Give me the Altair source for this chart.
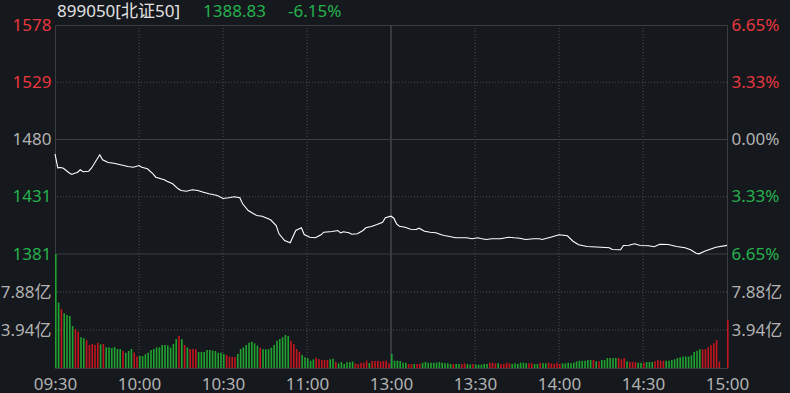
import altair as alt
import pandas as pd

# ---------------- data ----------------
CODE_NAME = "899050[北证50]"
LAST_PRICE = "1388.83"
CHANGE = "-6.15%"
PREV_CLOSE = 1479.84
PCT_LIMIT = 6.65
VOL_MAX = 11.82

time_ticks = [0, 30, 60, 90, 120, 150, 180, 210, 240]
time_labels = ["09:30", "10:00", "10:30", "11:00", "13:00", "13:30", "14:00", "14:30", "15:00"]

pct_ticks = [-6.65, -3.33, 0, 3.33, 6.65]
vol_ticks = [3.94, 7.88]

price_minute = [0, 1, 2, 3, 5, 6, 7, 8, 9, 10, 12, 13, 14, 16, 17, 19, 21, 23, 26, 28,
                30, 31, 33, 35, 36, 39, 40, 42, 44, 45, 47, 49, 51, 53, 55, 58, 60, 62, 64, 66,
                67, 69, 72, 74, 77, 79, 80, 82, 84, 85, 86, 88, 89, 91, 93, 95, 96, 99, 101, 102,
                103, 105, 106, 108, 110, 111, 113, 115, 117, 118, 120, 121, 122, 123, 125, 127, 129, 130, 132, 134,
                136, 138, 139, 141, 143, 147, 149, 151, 152, 154, 156, 159, 162, 164, 166, 168, 171, 173, 174, 177,
                180, 183, 185, 187, 190, 195, 198, 199, 202, 203, 205, 207, 209, 212, 214, 216, 219, 222, 225, 227,
                229, 230, 232, 234, 236, 240]
price_value = [1467.55, 1455.52, 1455.77, 1455.17, 1451.22, 1449.76, 1450.87, 1451.48, 1453.80, 1452.08,
               1452.59, 1455.17, 1458.95, 1466.69, 1462.39, 1460.07, 1459.47, 1458.35, 1456.63, 1456.03,
               1457.49, 1456.03, 1454.66, 1450.36, 1447.44, 1445.20, 1444.00, 1441.76, 1437.47, 1436.01,
               1435.40, 1436.61, 1436.01, 1434.54, 1433.17, 1431.71, 1429.13, 1429.73, 1430.59, 1429.73,
               1424.57, 1418.82, 1414.52, 1413.92, 1410.82, 1405.92, 1398.79, 1393.03, 1391.05, 1396.47,
               1401.63, 1403.95, 1398.19, 1395.87, 1395.35, 1397.93, 1400.16, 1400.77, 1401.63, 1399.65,
               1400.51, 1399.65, 1398.44, 1398.79, 1401.63, 1403.95, 1405.06, 1406.78, 1408.76, 1412.54,
               1413.92, 1412.20, 1407.38, 1405.32, 1404.46, 1402.74, 1402.48, 1403.60, 1401.02, 1400.16,
               1399.65, 1397.93, 1397.33, 1396.47, 1395.35, 1395.35, 1394.49, 1395.35, 1394.75, 1393.89,
               1394.49, 1394.49, 1395.87, 1395.35, 1395.01, 1393.89, 1394.49, 1394.49, 1393.89, 1395.87,
               1397.93, 1397.07, 1392.43, 1389.34, 1387.87, 1387.27, 1386.76, 1385.29, 1385.04, 1388.73,
               1388.99, 1390.19, 1388.73, 1388.48, 1387.62, 1389.85, 1389.59, 1387.87, 1386.76, 1385.04,
               1382.11, 1381.60, 1383.83, 1385.55, 1387.27, 1388.83]

vol_morning = [11.82, 6.77, 6.12, 5.67, 5.49, 5.39, 4.35, 4.04, 3.77, 3.18,
               3.08, 2.90, 2.38, 2.49, 2.38, 2.63, 2.45, 2.49, 2.14, 2.14,
               2.07, 2.18, 1.97, 1.97, 1.76, 1.59, 1.76, 1.97, 1.62, 1.18,
               1.24, 1.24, 1.42, 1.59, 1.87, 1.97, 2.14, 2.14, 2.38, 2.38,
               2.32, 2.11, 2.49, 3.01, 3.32, 2.97, 2.38, 2.14, 1.97, 1.97,
               1.94, 1.66, 1.66, 1.66, 1.87, 1.87, 1.80, 1.76, 1.59, 1.59,
               1.45, 1.35, 1.18, 1.14, 1.14, 1.45, 1.97, 2.14, 2.38, 2.63,
               2.73, 2.56, 2.32, 2.11, 1.94, 1.94, 1.94, 2.11, 2.38, 2.83,
               3.01, 3.18, 3.42, 3.32, 2.83, 2.49, 1.97, 1.69, 1.35, 1.11,
               1.00, 0.76, 0.90, 1.07, 0.90, 0.83, 0.83, 0.83, 0.90, 0.97,
               0.62, 0.48, 0.62, 0.41, 0.59, 0.59, 0.66, 0.48, 0.41, 0.55,
               0.55, 0.76, 0.52, 0.73, 0.73, 0.76, 0.66, 0.73, 0.76, 0.48]
dir_morning = list("GGRGGGGRRGGRRRRRGRGG"
                   "GGGGRGGGRRGGGGGGGGGG"
                   "GGGGRGRGRRRGGGGGGGGG"
                   "GRRRRGGGGGGGGRGGGGGG"
                   "GGGGRRRRGGGGGRRRRRGG"
                   "RGGGGGGRRRRRGRRRRRRR")

vol_afternoon = [1.45, 0.76, 0.76, 0.73, 0.55, 0.55, 0.41, 0.41, 0.41, 0.41,
                 0.41, 0.55, 0.62, 0.55, 0.55, 0.55, 0.55, 0.62, 0.55, 0.48,
                 0.48, 0.41, 0.41, 0.41, 0.41, 0.41, 0.48, 0.41, 0.35, 0.41,
                 0.35, 0.35, 0.35, 0.41, 0.41, 0.55, 0.55, 0.48, 0.48, 0.41,
                 0.41, 0.55, 0.48, 0.41, 0.48, 0.41, 0.55, 0.55, 0.48, 0.48,
                 0.48, 0.41, 0.41, 0.55, 0.48, 0.48, 0.55, 0.48, 0.41, 0.55,
                 0.41, 0.48, 0.48, 0.55, 0.48, 0.55, 0.69, 0.76, 0.76, 0.76,
                 0.83, 0.83, 0.83, 0.69, 0.69, 0.83, 0.83, 1.04, 1.04, 1.04,
                 1.04, 1.04, 0.90, 1.04, 0.69, 0.62, 0.62, 0.62, 0.55, 0.55,
                 0.55, 0.62, 0.62, 0.62, 0.69, 0.83, 0.76, 0.76, 0.76, 0.76,
                 0.83, 0.90, 1.04, 1.11, 1.18, 1.18, 1.18, 1.31, 1.66, 1.80,
                 1.94, 1.94, 1.94, 2.14, 2.35, 2.56, 2.90, 0.66, 0.0, 0.0,
                 4.98]
dir_afternoon = list("GGGGGGRRGRRGGGGGGGGG"
                     "GGRGGRRGGRGGGGGRRRGR"
                     "RRRGGGGGGRRGGRGGRRRR"
                     "RGGGGGGGGGGGRGRGGGGG"
                     "GRRRGRRRGGRGGGRRRRGG"
                     "GGGGGGGGGGGRRRRRRRRR"
                     "R")

# ---------------- style ----------------
FONT = "Noto Sans, Noto Sans CJK SC, sans-serif"
BG = "#15181d"
BORDER = "#3a3d43"
DOT = "#4a4d53"
MIDLINE = "#4a4c51"
GRAY_TXT = "#b2b2b2"
TITLE_TXT = "#e2e2e2"
RED_TXT = "#e8373d"
GREEN_TXT = "#25b24d"
RED_BAR = "#c4161d"
GREEN_BAR = "#1fa52f"
FS = 17

W = 672
H_PRICE = 229
H = 343

lo = PREV_CLOSE * (1 - PCT_LIMIT / 100)
hi = PREV_CLOSE * (1 + PCT_LIMIT / 100)
half = PCT_LIMIT / 2 / 100
price_ticks = [lo, PREV_CLOSE * (1 - half), PREV_CLOSE, PREV_CLOSE * (1 + half), hi]

price_df = pd.DataFrame({"m": price_minute, "p": price_value})
vol_df = pd.DataFrame({
    "m": list(range(len(vol_morning) + len(vol_afternoon))),
    "v": vol_morning + vol_afternoon,
    "c": dir_morning + dir_afternoon,
})

x_scale = alt.Scale(domain=[0, 240], nice=False, zero=False, padding=0)
price_scale = alt.Scale(domain=[lo, hi], range=[H_PRICE, 0], nice=False, zero=False)
pct_scale = alt.Scale(domain=[-PCT_LIMIT, PCT_LIMIT], range=[H_PRICE, 0], nice=False, zero=False)
vol_scale = alt.Scale(domain=[0, VOL_MAX], range=[H, H_PRICE], nice=False)

label_expr_time = "[" + ",".join("'%s'" % t for t in time_labels) + "][round(datum.value/30)]"
x_axis = alt.Axis(values=time_ticks, labelExpr=label_expr_time, title=None, grid=False,
                  ticks=False, domain=False, labelFlush=False, labelPadding=8,
                  labelColor=GRAY_TXT, labelFontSize=FS, labelFont=FONT, orient="bottom")

price_axis = alt.Axis(values=price_ticks, labelExpr="format(datum.value, '.0f')", title=None,
                      grid=False, ticks=False, domain=False, labelPadding=4, orient="left",
                      labelFontSize=FS, labelFont=FONT,
                      labelColor={"condition": [
                          {"test": "datum.value > %f" % (PREV_CLOSE + 1), "value": RED_TXT},
                          {"test": "datum.value < %f" % (PREV_CLOSE - 1), "value": GREEN_TXT}],
                          "value": GRAY_TXT})
pct_axis = alt.Axis(values=pct_ticks, labelExpr="format(abs(datum.value), '.2f') + '%'", title=None,
                    grid=False, ticks=False, domain=False, labelPadding=4, orient="right",
                    labelFontSize=FS, labelFont=FONT,
                    labelColor={"condition": [
                        {"test": "datum.value > 0.01", "value": RED_TXT},
                        {"test": "datum.value < -0.01", "value": GREEN_TXT}],
                        "value": GRAY_TXT})
vol_axis_l = alt.Axis(values=vol_ticks, labelExpr="format(datum.value, '.2f') + '亿'", title=None,
                      grid=False, ticks=False, domain=False, labelPadding=4, orient="left",
                      labelFontSize=FS, labelFont=FONT, labelColor=GRAY_TXT)
vol_axis_r = alt.Axis(values=vol_ticks, labelExpr="format(datum.value, '.2f') + '亿'", title=None,
                      grid=False, ticks=False, domain=False, labelPadding=4, orient="right",
                      labelFontSize=FS, labelFont=FONT, labelColor=GRAY_TXT)

# ---- price pane ----
hgrid_dot = alt.Chart(pd.DataFrame({"p": [price_ticks[1], price_ticks[3]]})).mark_rule(
    color=DOT, strokeDash=[1, 2], strokeWidth=1).encode(
    y=alt.Y("p:Q", scale=price_scale, axis=price_axis))
hgrid_solid = alt.Chart(pd.DataFrame({"p": [price_ticks[0], price_ticks[2]]})).mark_rule(
    color=BORDER, strokeWidth=1).encode(
    y=alt.Y("p:Q", scale=price_scale, axis=price_axis))
vgrid_dot = alt.Chart(pd.DataFrame({"m": [t for t in time_ticks if t not in (0, 120, 240)]})).mark_rule(
    color=DOT, strokeDash=[1, 2], strokeWidth=1).encode(
    x=alt.X("m:Q", scale=x_scale, axis=x_axis))
vgrid_mid = alt.Chart(pd.DataFrame({"m": [120]})).mark_rule(
    color=MIDLINE, strokeWidth=1.3).encode(
    x=alt.X("m:Q", scale=x_scale, axis=x_axis))
line = alt.Chart(price_df).mark_line(color="#ffffff", strokeWidth=1.1).encode(
    x=alt.X("m:Q", scale=x_scale, axis=x_axis),
    y=alt.Y("p:Q", scale=price_scale, axis=price_axis))

t1 = alt.Chart(pd.DataFrame({"t": [CODE_NAME]})).mark_text(
    align="left", baseline="alphabetic", font=FONT, fontSize=FS, color=TITLE_TXT).encode(
    text="t:N", x=alt.value(2), y=alt.value(-8))
t2 = alt.Chart(pd.DataFrame({"t": [LAST_PRICE]})).mark_text(
    align="left", baseline="alphabetic", font=FONT, fontSize=FS, color=GREEN_TXT).encode(
    text="t:N", x=alt.value(148), y=alt.value(-8))
t3 = alt.Chart(pd.DataFrame({"t": [CHANGE]})).mark_text(
    align="left", baseline="alphabetic", font=FONT, fontSize=FS, color=GREEN_TXT).encode(
    text="t:N", x=alt.value(233), y=alt.value(-8))

price_layer = alt.layer(vgrid_dot, vgrid_mid, hgrid_dot, hgrid_solid, line, t1, t2, t3)

pct_layer = alt.Chart(pd.DataFrame({"v": pct_ticks})).mark_rule(opacity=0).encode(
    y=alt.Y("v:Q", scale=pct_scale, axis=pct_axis))

# ---- volume pane ----
vgrid_dot2 = alt.Chart(pd.DataFrame({"v": vol_ticks})).mark_rule(
    color=DOT, strokeDash=[1, 2], strokeWidth=1).encode(
    y=alt.Y("v:Q", scale=vol_scale, axis=vol_axis_l))
bars = alt.Chart(vol_df).mark_bar(size=1.6, xOffset=0.8).encode(
    x=alt.X("m:Q", scale=x_scale, axis=x_axis),
    y=alt.Y("v:Q", scale=vol_scale, axis=vol_axis_l),
    color=alt.Color("c:N", scale=alt.Scale(domain=["R", "G"], range=[RED_BAR, GREEN_BAR]), legend=None))
vol_layer = alt.layer(vgrid_dot2, bars)

vol_r_layer = alt.Chart(pd.DataFrame({"v": vol_ticks})).mark_rule(opacity=0).encode(
    y=alt.Y("v:Q", scale=vol_scale, axis=vol_axis_r))

chart = alt.layer(price_layer, pct_layer, vol_layer, vol_r_layer).resolve_scale(
    y="independent").properties(
    width=W, height=H,
    autosize=alt.AutoSizeParams(type="none"),
    padding={"left": 55, "top": 25, "right": 63, "bottom": 25},
    background=BG,
).configure_view(stroke=BORDER, strokeWidth=1)

chart.save("out.html", embed_options={"renderer": "svg", "actions": False})
